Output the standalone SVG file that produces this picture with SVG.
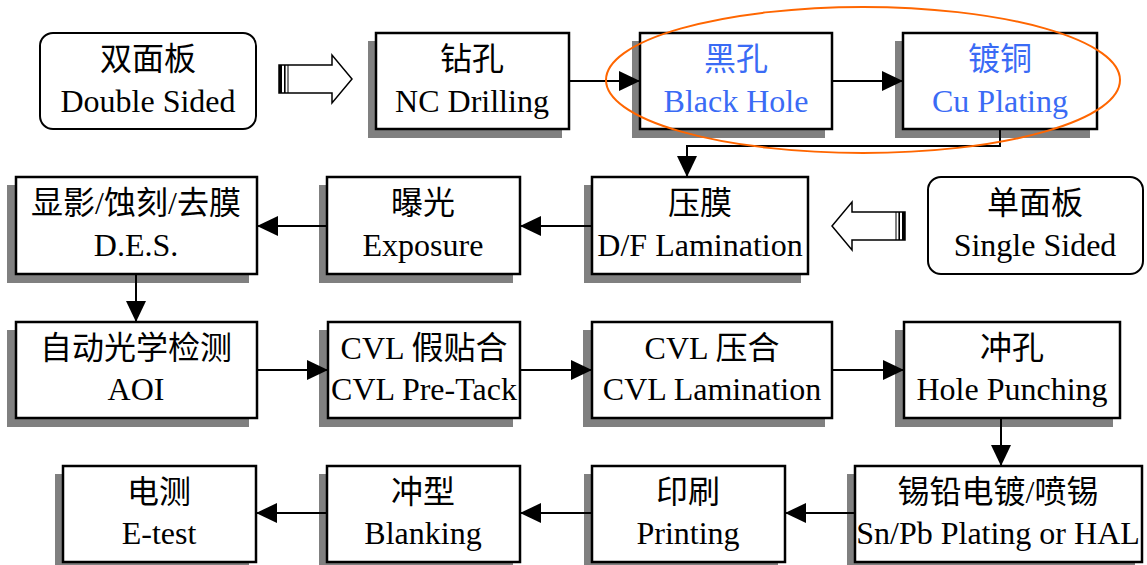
<svg xmlns="http://www.w3.org/2000/svg" width="1147" height="565" viewBox="0 0 1147 565">
  <defs>
    <marker id="tri" markerUnits="userSpaceOnUse" markerWidth="22" markerHeight="22" viewBox="0 0 22 22" refX="21" refY="11" orient="auto">
      <path d="M0,1 L21,11 L0,21 Z" fill="#000"/>
    </marker>
  </defs>
  <style>
    .shadow { fill: #808080; }
    .box { fill: #fff; stroke: #000; stroke-width: 2.5; }
    .rbox { fill: #fff; stroke: #000; stroke-width: 2; }
    .zh { font-family: "Liberation Serif", "Noto Sans CJK SC", serif; font-size: 32px; text-anchor: middle; fill: #000; }
    .en { font-family: "Liberation Serif", "Times New Roman", serif; font-size: 32px; text-anchor: middle; fill: #000; }
    .blue { fill: #3a6bf5; }
    .link { fill: none; stroke: #000; stroke-width: 2; marker-end: url(#tri); }
    .hollow { fill: #fff; stroke: #000; stroke-width: 1.5; }
  </style>

  <rect width="1147" height="565" fill="#fff"/>

  <!-- row 1 -->
  <g id="double-sided">
    <rect class="rbox" x="40" y="33" width="216" height="96" rx="13"/>
    <text class="zh" x="148" y="70">双面板</text>
    <text class="en" x="148" y="112">Double Sided</text>
  </g>
  <g id="nc-drilling">
    <rect class="shadow" x="368" y="41" width="194" height="97"/>
    <rect class="box" x="376" y="33" width="193" height="96"/>
    <text class="zh" x="472" y="70">钻孔</text>
    <text class="en" x="472" y="112">NC Drilling</text>
  </g>
  <g id="black-hole">
    <rect class="shadow" x="632" y="41" width="193" height="97"/>
    <rect class="box" x="640" y="33" width="192" height="96"/>
    <text class="zh blue" x="736" y="70">黑孔</text>
    <text class="en blue" x="736" y="112">Black Hole</text>
  </g>
  <g id="cu-plating">
    <rect class="shadow" x="895" y="41" width="195" height="97"/>
    <rect class="box" x="903" y="33" width="194" height="96"/>
    <text class="zh blue" x="1000" y="70">镀铜</text>
    <text class="en blue" x="1000" y="112">Cu Plating</text>
  </g>

  <!-- row 2 -->
  <g id="des">
    <rect class="shadow" x="7" y="185" width="242" height="98"/>
    <rect class="box" x="16" y="177" width="241" height="97"/>
    <text class="zh" x="136" y="214">显影/蚀刻/去膜</text>
    <text class="en" x="136" y="256">D.E.S.</text>
  </g>
  <g id="exposure">
    <rect class="shadow" x="319" y="185" width="194" height="98"/>
    <rect class="box" x="327" y="177" width="193" height="97"/>
    <text class="zh" x="423" y="214">曝光</text>
    <text class="en" x="423" y="256">Exposure</text>
  </g>
  <g id="df-lamination">
    <rect class="shadow" x="584" y="185" width="217" height="98"/>
    <rect class="box" x="592" y="177" width="216" height="97"/>
    <text class="zh" x="700" y="214">压膜</text>
    <text class="en" x="700" y="256">D/F Lamination</text>
  </g>
  <g id="single-sided">
    <rect class="rbox" x="928" y="177" width="215" height="97" rx="13"/>
    <text class="zh" x="1035" y="214">单面板</text>
    <text class="en" x="1035" y="256">Single Sided</text>
  </g>

  <!-- row 3 -->
  <g id="aoi">
    <rect class="shadow" x="7" y="330" width="242" height="97"/>
    <rect class="box" x="16" y="322" width="241" height="96"/>
    <text class="zh" x="136" y="359">自动光学检测</text>
    <text class="en" x="136" y="400">AOI</text>
  </g>
  <g id="cvl-pre-tack">
    <rect class="shadow" x="319" y="330" width="194" height="97"/>
    <rect class="box" x="328" y="322" width="192" height="96"/>
    <text class="zh" x="424" y="359">CVL 假贴合</text>
    <text class="en" x="424" y="400">CVL Pre-Tack</text>
  </g>
  <g id="cvl-lamination">
    <rect class="shadow" x="583" y="330" width="242" height="97"/>
    <rect class="box" x="592" y="322" width="240" height="96"/>
    <text class="zh" x="712" y="359">CVL 压合</text>
    <text class="en" x="712" y="400">CVL Lamination</text>
  </g>
  <g id="hole-punching">
    <rect class="shadow" x="895" y="330" width="218" height="97"/>
    <rect class="box" x="904" y="322" width="216" height="96"/>
    <text class="zh" x="1012" y="359">冲孔</text>
    <text class="en" x="1012" y="400">Hole Punching</text>
  </g>

  <!-- row 4 -->
  <g id="e-test">
    <rect class="shadow" x="55" y="474" width="194" height="97"/>
    <rect class="box" x="63" y="466" width="193" height="96"/>
    <text class="zh" x="159" y="503">电测</text>
    <text class="en" x="159" y="544">E-test</text>
  </g>
  <g id="blanking">
    <rect class="shadow" x="319" y="474" width="194" height="97"/>
    <rect class="box" x="327" y="466" width="193" height="96"/>
    <text class="zh" x="423" y="503">冲型</text>
    <text class="en" x="423" y="544">Blanking</text>
  </g>
  <g id="printing">
    <rect class="shadow" x="584" y="474" width="194" height="97"/>
    <rect class="box" x="592" y="466" width="193" height="96"/>
    <text class="zh" x="688" y="503">印刷</text>
    <text class="en" x="688" y="544">Printing</text>
  </g>
  <g id="sn-pb-plating">
    <rect class="shadow" x="847" y="474" width="288" height="97"/>
    <rect class="box" x="855" y="466" width="287" height="96"/>
    <text class="zh" x="998" y="503">锡铅电镀/喷锡</text>
    <text class="en" x="998" y="544">Sn/Pb Plating or HAL</text>
  </g>

  <g id="connectors">
    <!-- block arrows feeding the panel types into the line -->
    <g id="in-double">
      <path class="hollow" d="M279,65 H332 V55 L352,79 L332,103 V93 H279 Z"/>
      <rect x="279" y="65" width="3" height="28" fill="#000"/>
      <rect x="284" y="65" width="1.6" height="28" fill="#000"/>
      <rect x="287.5" y="65" width="1" height="28" fill="#000"/>
    </g>
    <g id="in-single" transform="translate(1184,147) scale(-1,1)">
      <path class="hollow" d="M279,65 H332 V55 L352,79 L332,103 V93 H279 Z"/>
      <rect x="279" y="65" width="3" height="28" fill="#000"/>
      <rect x="284" y="65" width="1.6" height="28" fill="#000"/>
      <rect x="287.5" y="65" width="1" height="28" fill="#000"/>
    </g>

    <path class="link" d="M569,81 H640"/>
    <path class="link" d="M832,81 H903"/>
    <path class="link" d="M1000,129 V146 H687 V177"/>
    <path class="link" d="M592,226 H520"/>
    <path class="link" d="M327,226 H257"/>
    <path class="link" d="M136,274 V322"/>
    <path class="link" d="M257,370 H328"/>
    <path class="link" d="M520,370 H592"/>
    <path class="link" d="M832,370 H904"/>
    <path class="link" d="M1001,418 V466"/>
    <path class="link" d="M855,513 H785"/>
    <path class="link" d="M592,513 H520"/>
    <path class="link" d="M327,513 H256"/>
  </g>

  <!-- highlight round the wet-process steps -->
  <ellipse id="highlight" cx="863" cy="80" rx="257" ry="73" fill="none" stroke="#ff6600" stroke-width="2"/>
</svg>
